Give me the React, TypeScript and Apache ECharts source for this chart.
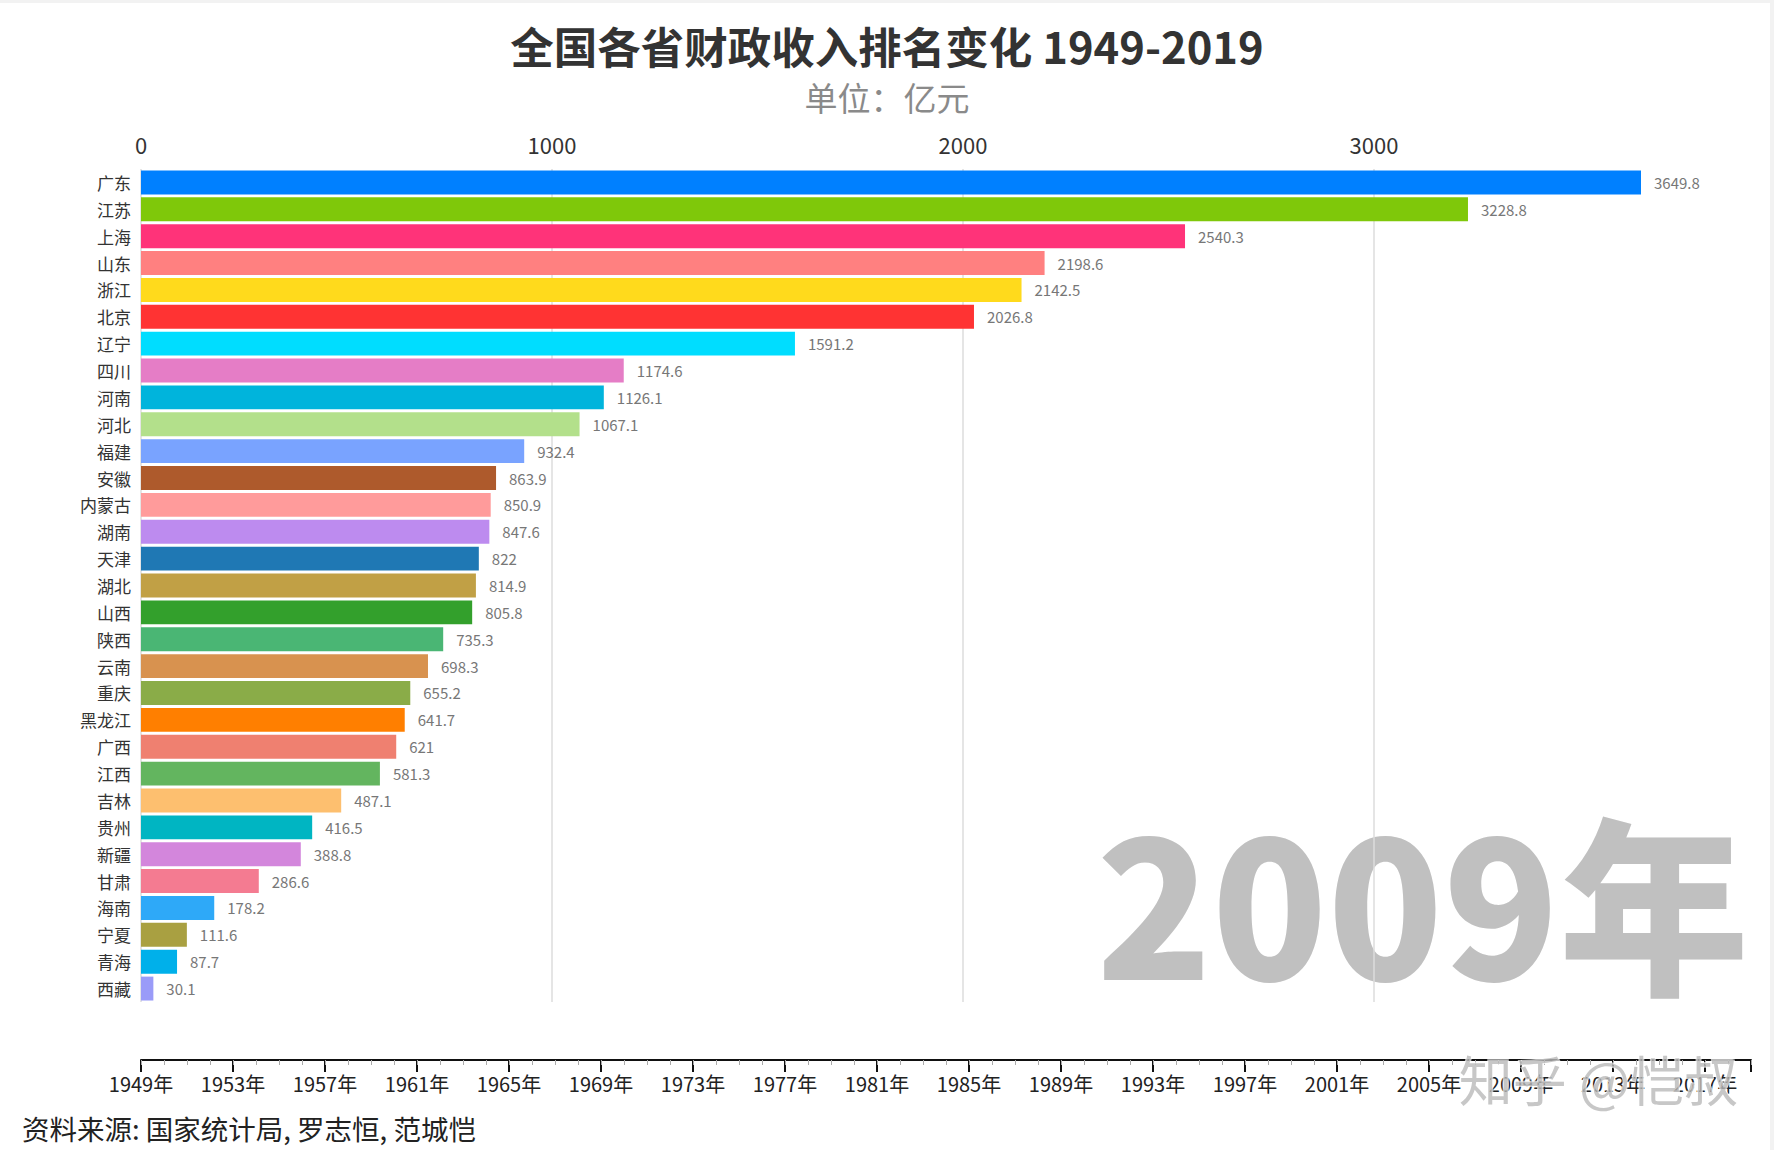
import React, { useEffect, useRef } from "react";
import * as echarts from "echarts";

const provinces = ["广东", "江苏", "上海", "山东", "浙江", "北京", "辽宁", "四川", "河南", "河北", "福建", "安徽", "内蒙古", "湖南", "天津", "湖北", "山西", "陕西", "云南", "重庆", "黑龙江", "广西", "江西", "吉林", "贵州", "新疆", "甘肃", "海南", "宁夏", "青海", "西藏"];
const revenue = [3649.8, 3228.8, 2540.3, 2198.6, 2142.5, 2026.8, 1591.2, 1174.6, 1126.1, 1067.1, 932.4, 863.9, 850.9, 847.6, 822, 814.9, 805.8, 735.3, 698.3, 655.2, 641.7, 621, 581.3, 487.1, 416.5, 388.8, 286.6, 178.2, 111.6, 87.7, 30.1];
const barColors = ["#0080ff", "#7fc80a", "#ff3379", "#ff8080", "#ffda1c", "#ff3333", "#00ddff", "#e57dc6", "#00b4dc", "#b3e08b", "#79a3ff", "#ae5a2c", "#ff9b9b", "#bd8bef", "#1f78b4", "#c1a045", "#33a02c", "#4ab674", "#d8924f", "#8aac48", "#ff7f00", "#ef8070", "#63b55f", "#fdbf6f", "#00b5c2", "#d386dc", "#f47b91", "#2ea9f8", "#a9a041", "#00b0ea", "#9a9bf8"];
const startYear = 1949;
const endYear = 2019;
const currentYear = 2009;
const titleText = "全国各省财政收入排名变化 1949-2019";
const subtitleText = "单位：亿元";
const sourceText = "资料来源: 国家统计局, 罗志恒, 范城恺";
const watermarkText = "知乎 @恺叔";

const FONT = "'Noto Sans CJK SC', 'Noto Sans', sans-serif";

export default function App() {
  const ref = useRef<HTMLDivElement>(null);
  useEffect(() => {
    document.body.style.margin = "0";
    const chart = echarts.init(ref.current!, null, { renderer: "svg" });
    const maxVal = Math.max(...revenue);
    chart.setOption({
      animation: false,
      backgroundColor: "#ffffff",
      textStyle: { fontFamily: FONT },
      title: [
        {
          text: titleText,
          left: "center",
          top: 24,
          padding: 0,
          textStyle: { fontFamily: FONT, fontSize: 43.5, fontWeight: "bold", color: "#333333" },
        },
        {
          text: subtitleText,
          left: "center",
          top: 80,
          padding: 0,
          textStyle: { fontFamily: FONT, fontSize: 33, fontWeight: "normal", color: "#8a8a8a" },
        },
      ],
      grid: [
        { left: 141, right: 133, top: 169, height: 833, containLabel: false },
        { left: 141, right: 23, top: 1060, height: 0, containLabel: false },
        { left: 141, right: 23, top: 1060, height: 0, containLabel: false },
      ],
      xAxis: [
        {
          type: "value",
          gridIndex: 0,
          position: "top",
          min: 0,
          max: maxVal,
          interval: 1000,
          axisLine: { show: false },
          axisTick: { show: false },
          axisLabel: {
            margin: 14,
            fontSize: 22,
            color: "#333333",
            fontFamily: FONT,
            formatter: (v: number) => (v % 1000 === 0 ? String(v) : ""),
          },
          splitLine: { show: true, showMaxLine: false, lineStyle: { color: "#dddddd", width: 1.5 } },
        },
        {
          type: "value",
          gridIndex: 1,
          position: "bottom",
          min: startYear,
          max: endYear,
          interval: 4,
          axisLine: { show: true, lineStyle: { color: "#111111", width: 2 } },
          axisTick: { show: true, length: 12, lineStyle: { color: "#111111", width: 2 } },
          axisLabel: {
            margin: 13,
            fontSize: 20,
            color: "#222222",
            fontFamily: FONT,
            formatter: (v: number) => (v === endYear ? "" : v + "年"),
          },
          splitLine: { show: false },
        },
        {
          type: "value",
          gridIndex: 2,
          position: "bottom",
          min: startYear,
          max: endYear,
          interval: 1,
          axisLine: { show: false },
          axisTick: { show: true, length: 5, lineStyle: { color: "#aaaaaa", width: 1 } },
          axisLabel: { show: false },
          splitLine: { show: false },
        },
      ],
      yAxis: [
        {
          type: "category",
          gridIndex: 0,
          data: provinces,
          inverse: true,
          axisLine: { show: false },
          axisTick: { show: false },
          axisLabel: { margin: 10, fontSize: 17, color: "#333333", fontFamily: FONT },
        },
        { type: "value", gridIndex: 1, show: false },
        { type: "value", gridIndex: 2, show: false },
      ],
      series: [
        {
          type: "bar",
          xAxisIndex: 0,
          yAxisIndex: 0,
          barCategoryGap: "11%",
          data: revenue.map((v, i) => ({ value: v, itemStyle: { color: barColors[i] } })),
          label: {
            show: true,
            position: "right",
            distance: 13,
            fontSize: 15,
            color: "#777777",
            fontFamily: FONT,
          },
        },
      ],
      graphic: [
        { type: "rect", shape: { x: 0, y: 0, width: 1774, height: 3 }, style: { fill: "#f2f2f2" }, silent: true },
        { type: "rect", shape: { x: 1770, y: 0, width: 4, height: 1150 }, style: { fill: "#f2f2f2" }, silent: true },
        {
          type: "text",
          x: 1749,
          y: 897,
          z: -1,
          style: {
            text: currentYear + "年",
            fontFamily: FONT,
            fontSize: 190,
            fontWeight: 900,
            fill: "#c0c0c0",
            align: "right",
            verticalAlign: "middle",
          },
        },
        {
          type: "text",
          x: 22,
          y: 1128,
          style: {
            text: sourceText,
            fontFamily: FONT,
            fontSize: 27.5,
            fill: "#222222",
            align: "left",
            verticalAlign: "middle",
          },
        },
        {
          type: "text",
          x: 1738,
          y: 1078,
          z: 100,
          style: {
            text: watermarkText,
            fontFamily: FONT,
            fontSize: 54,
            fill: "rgba(185,185,185,0.8)",
            stroke: "rgba(255,255,255,0.7)",
            lineWidth: 2,
            align: "right",
            verticalAlign: "middle",
          },
        },
      ],
    });
    return () => chart.dispose();
  }, []);
  return <div ref={ref} style={{ width: 1774, height: 1150 }} />;
}
